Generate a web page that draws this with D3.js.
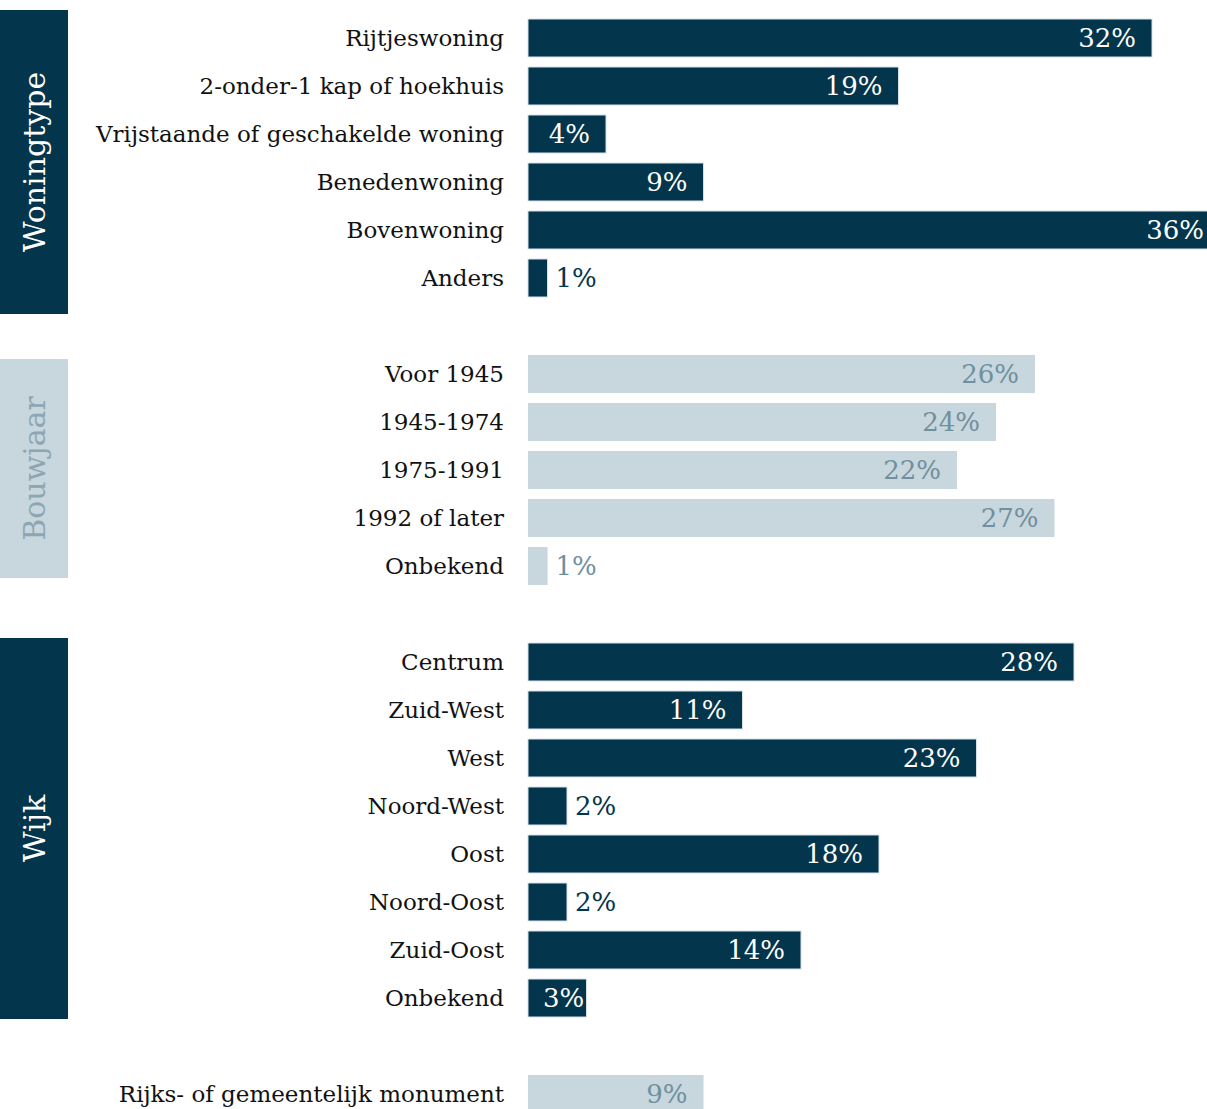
<!DOCTYPE html>
<html>
<head>
<meta charset="utf-8">
<script src="https://cdn.jsdelivr.net/npm/d3@7"></script>
<style>
  html, body { margin: 0; padding: 0; background: #ffffff; overflow: hidden; }
  svg { display: block; }
  text { font-family: "DejaVu Serif", "Liberation Serif", serif; }
</style>
</head>
<body>
<svg id="chart" width="1207" height="1109"></svg>
<script>
// Share of dwellings per category (percent)
const woningtypeLabels = ["Rijtjeswoning", "2-onder-1 kap of hoekhuis", "Vrijstaande of geschakelde woning", "Benedenwoning", "Bovenwoning", "Anders"];
const woningtypeValues = [32, 19, 4, 9, 36, 1];

const bouwjaarLabels = ["Voor 1945", "1945-1974", "1975-1991", "1992 of later", "Onbekend"];
const bouwjaarValues = [26, 24, 22, 27, 1];

const wijkLabels = ["Centrum", "Zuid-West", "West", "Noord-West", "Oost", "Noord-Oost", "Zuid-Oost", "Onbekend"];
const wijkValues = [28, 11, 23, 2, 18, 2, 14, 3];

const monumentLabels = ["Rijks- of gemeentelijk monument"];
const monumentValues = [9];

const groupTitles = ["Woningtype", "Bouwjaar", "Wijk", null];

// Visual styling per group
const DARK = "#03354c";
const LIGHT = "#c8d6dd";
const groupStyles = [
  { bar: DARK,  inText: "#ffffff", outText: DARK,      titleBox: DARK,  titleText: "#ffffff", boxPad: [-9, 17] },
  { bar: LIGHT, inText: "#6f909e", outText: "#6f909e", titleBox: LIGHT, titleText: "#8ca6b2", boxPad: [4, -7] },
  { bar: DARK,  inText: "#ffffff", outText: DARK,      titleBox: DARK,  titleText: "#ffffff", boxPad: [-5, 2] },
  { bar: LIGHT, inText: "#6f909e", outText: "#6f909e" }
];

const groups = [
  { labels: woningtypeLabels, values: woningtypeValues },
  { labels: bouwjaarLabels, values: bouwjaarValues },
  { labels: wijkLabels, values: wijkValues },
  { labels: monumentLabels, values: monumentValues }
];

// Flatten into rows with one empty spacer row between groups
const rows = [];
const keys = [];
groups.forEach((g, gi) => {
  if (gi > 0) keys.push("gap-" + gi);
  g.labels.forEach((lab, i) => {
    const key = gi + "-" + i;
    keys.push(key);
    rows.push({ key, group: gi, label: lab, value: g.values[i] });
  });
});

const W = 1207;
const svg = d3.select("#chart");

const y = d3.scaleBand()
  .domain(keys)
  .range([14, 14 + keys.length * 48])
  .paddingInner(10 / 48)
  .paddingOuter(5 / 48);

const x0 = 528;
const x = d3.scaleLinear().domain([0, 36]).range([x0, x0 + 36 * 19.5]);

// Group title boxes with rotated titles
groups.forEach((g, gi) => {
  const title = groupTitles[gi];
  if (!title) return;
  const st = groupStyles[gi];
  const top = y(gi + "-0") + st.boxPad[0];
  const bottom = y(gi + "-" + (g.labels.length - 1)) + y.bandwidth() + st.boxPad[1];
  svg.append("rect")
    .attr("x", 0).attr("y", top)
    .attr("width", 68).attr("height", bottom - top)
    .attr("fill", st.titleBox);
  svg.append("text")
    .attr("transform", `translate(${34},${(top + bottom) / 2}) rotate(-90)`)
    .attr("text-anchor", "middle")
    .attr("dy", "0.35em")
    .attr("font-size", 30)
    .attr("fill", st.titleText)
    .text(title);
});

// Category labels
svg.append("g").selectAll("text")
  .data(rows).join("text")
  .attr("x", 504)
  .attr("y", d => y(d.key) + y.bandwidth() / 2)
  .attr("dy", "0.36em")
  .attr("text-anchor", "end")
  .attr("font-size", 23)
  .attr("fill", "#111111")
  .text(d => d.label);

// Bars
svg.append("g").selectAll("rect")
  .data(rows).join("rect")
  .attr("x", x(0))
  .attr("y", d => y(d.key))
  .attr("width", d => x(d.value) - x(0))
  .attr("height", y.bandwidth())
  .attr("fill", d => groupStyles[d.group].bar)
  .attr("stroke", d => groupStyles[d.group].bar === DARK ? "#d6e0e5" : "none")
  .attr("stroke-width", 1);

// Value labels: inside the bar end when it fits, otherwise just beyond it
const vals = svg.append("g").selectAll("text")
  .data(rows).join("text")
  .attr("y", d => y(d.key) + y.bandwidth() / 2)
  .attr("dy", "0.36em")
  .attr("font-size", 26)
  .text(d => d.value + "%");

vals.each(function(d) {
  const t = d3.select(this);
  const st = groupStyles[d.group];
  const end = x(d.value);
  const w = this.getComputedTextLength();
  if (end - x0 >= 50) {
    const right = Math.min(Math.max(end - 16, x0 + 15 + w), W - 3);
    t.attr("text-anchor", "end")
     .attr("x", right)
     .attr("fill", st.inText);
  } else {
    t.attr("text-anchor", "start")
     .attr("x", end + 8)
     .attr("fill", st.outText);
  }
});
</script>
</body>
</html>
